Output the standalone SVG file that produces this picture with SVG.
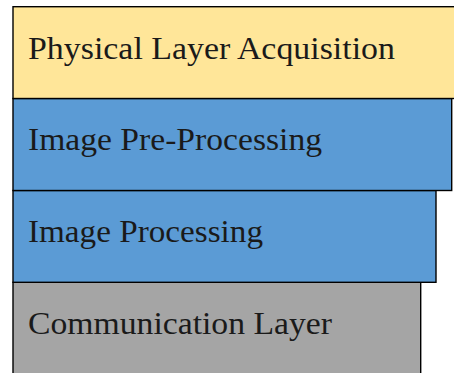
<svg xmlns="http://www.w3.org/2000/svg" width="454" height="373" viewBox="0 0 454 373">
<style>
.box{stroke:#000;stroke-width:1.4}
.lbl{font-family:"Liberation Serif","DejaVu Serif",serif;font-size:31px;fill:#1a1a1a}
</style>
<rect width="454" height="373" fill="#fff"/>
<g id="communication">
<rect class="box" x="13" y="282.3" width="407.7" height="100" fill="#A5A5A5"/>
<text class="lbl" x="28" y="334" textLength="304" lengthAdjust="spacingAndGlyphs">Communication Layer</text>
</g>
<g id="processing">
<rect class="box" x="13" y="190.5" width="423" height="91.8" fill="#5B9BD5"/>
<text class="lbl" x="28" y="241.7" textLength="235" lengthAdjust="spacingAndGlyphs">Image Processing</text>
</g>
<g id="preprocessing">
<rect class="box" x="13" y="98.5" width="438.7" height="92" fill="#5B9BD5"/>
<text class="lbl" x="28" y="150" textLength="294" lengthAdjust="spacingAndGlyphs">Image Pre-Processing</text>
</g>
<g id="acquisition">
<rect class="box" x="13" y="6.7" width="460" height="91.8" fill="#FFE699"/>
<text class="lbl" x="28" y="58.5" textLength="367" lengthAdjust="spacingAndGlyphs">Physical Layer Acquisition</text>
</g>
<g id="connectors"/>
</svg>
